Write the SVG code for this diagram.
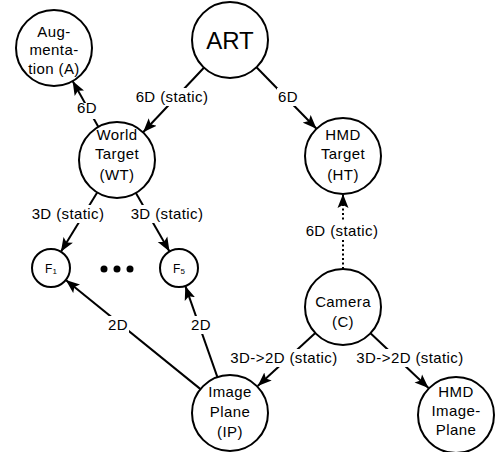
<svg xmlns="http://www.w3.org/2000/svg" width="496" height="452" viewBox="0 0 496 452">
<style>
.n{fill:#fff;stroke:#000;stroke-width:2}
.t{font-family:"Liberation Sans",Arial,sans-serif;font-size:15px;letter-spacing:0.4px;fill:#000;text-anchor:middle}
.e{stroke:#000;stroke-width:2;fill:none;marker-end:url(#ah)}
.d{stroke-dasharray:2 2.5}
.bg{fill:#fff}
</style>
<defs>
<marker id="ah" markerUnits="userSpaceOnUse" markerWidth="16" markerHeight="12" refX="14" refY="6" orient="auto">
<path d="M0,0.5 L14,6 L0,11.5 L3,6 z" fill="#000"/>
</marker>
</defs>
<rect width="496" height="452" fill="#fff"/>
<g id="connectors">
<line class="e" x1="203.9" y1="67.7" x2="143.1" y2="132.3"/>
<line class="e" x1="98.4" y1="126.9" x2="72.6" y2="81.1"/>
<line class="e" x1="256.5" y1="67.2" x2="316.5" y2="128.8"/>
<line class="e" x1="97.2" y1="192.4" x2="60.9" y2="251.8"/>
<line class="e" x1="135.9" y1="192.9" x2="169.5" y2="251.5"/>
<line class="e" x1="200.5" y1="389.1" x2="65.8" y2="280"/>
<line class="e" x1="217.4" y1="377.2" x2="185.3" y2="285.9"/>
<line class="e d" x1="343" y1="269" x2="343" y2="194"/>
<line class="e" x1="315.3" y1="333" x2="257.7" y2="386"/>
<line class="e" x1="370.5" y1="333.3" x2="428.5" y2="388"/>
<rect class="bg" x="134" y="88" width="76" height="18"/>
<rect class="bg" x="76" y="103" width="22" height="16"/>
<rect class="bg" x="277" y="88" width="22" height="18"/>
<rect class="bg" x="30" y="205" width="76" height="18"/>
<rect class="bg" x="129" y="205" width="76" height="18"/>
<rect class="bg" x="107" y="316" width="22" height="18"/>
<rect class="bg" x="190" y="316" width="22" height="18"/>
<rect class="bg" x="304" y="222" width="76" height="18"/>
<rect class="bg" x="224" y="349" width="120" height="18"/>
<rect class="bg" x="352" y="349" width="116" height="18"/>
<text class="t" x="172" y="102">6D (static)</text>
<text class="t" x="87" y="113">6D</text>
<text class="t" x="288" y="102">6D</text>
<text class="t" x="68" y="219">3D (static)</text>
<text class="t" x="167" y="219">3D (static)</text>
<text class="t" x="118" y="330">2D</text>
<text class="t" x="201" y="330">2D</text>
<text class="t" x="342" y="236">6D (static)</text>
<text class="t" x="284" y="363">3D-&gt;2D (static)</text>
<text class="t" x="410" y="363">3D-&gt;2D (static)</text>
</g>
<g id="A">
<circle class="n" cx="54" cy="48" r="38"/>
<text class="t" x="54" y="37">Aug-</text>
<text class="t" x="54" y="55">menta-</text>
<text class="t" x="54" y="74">tion (A)</text>
</g>
<g id="ART">
<circle class="n" cx="230" cy="40" r="38"/>
<text class="t" x="230" y="49" style="font-size:24px;letter-spacing:0">ART</text>
</g>
<g id="WT">
<circle class="n" cx="117" cy="160" r="38"/>
<text class="t" x="117" y="140">World</text>
<text class="t" x="117" y="159">Target</text>
<text class="t" x="117" y="180">(WT)</text>
</g>
<g id="HT">
<circle class="n" cx="343" cy="156" r="38"/>
<text class="t" x="343" y="140">HMD</text>
<text class="t" x="343" y="159">Target</text>
<text class="t" x="343" y="180">(HT)</text>
</g>
<g id="F1">
<circle class="n" cx="51" cy="268" r="19"/>
<text class="t" x="51" y="273" style="font-size:12px;letter-spacing:0">F<tspan style="font-size:8px" dy="1">1</tspan></text>
</g>
<g id="dots">
<circle cx="104" cy="269" r="3.5" fill="#000"/>
<circle cx="117" cy="269" r="3.5" fill="#000"/>
<circle cx="130" cy="269" r="3.5" fill="#000"/>
</g>
<g id="F5">
<circle class="n" cx="179" cy="268" r="19"/>
<text class="t" x="179" y="273" style="font-size:12px;letter-spacing:0">F<tspan style="font-size:8px" dy="1">5</tspan></text>
</g>
<g id="C">
<circle class="n" cx="343" cy="307" r="38"/>
<text class="t" x="343" y="307">Camera</text>
<text class="t" x="343" y="327">(C)</text>
</g>
<g id="IP">
<circle class="n" cx="230" cy="413" r="38"/>
<text class="t" x="230" y="397">Image</text>
<text class="t" x="230" y="417">Plane</text>
<text class="t" x="230" y="437">(IP)</text>
</g>
<g id="HIP">
<circle class="n" cx="456" cy="415" r="38"/>
<text class="t" x="456" y="397">HMD</text>
<text class="t" x="456" y="416">Image-</text>
<text class="t" x="456" y="435">Plane</text>
</g>
</svg>
